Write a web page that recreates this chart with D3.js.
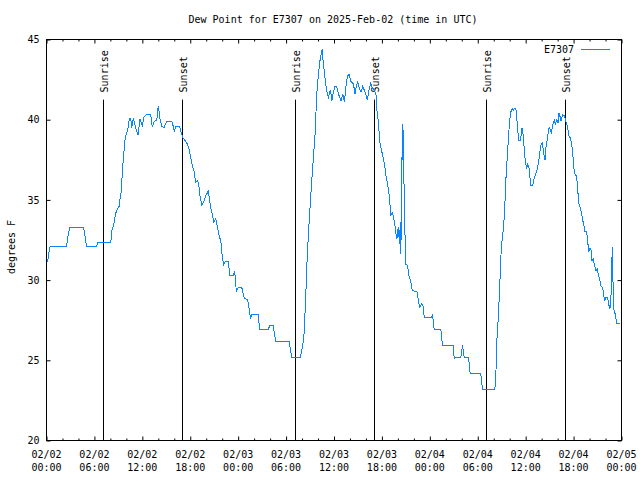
<!DOCTYPE html>
<html>
<head>
<meta charset="utf-8">
<script src="https://cdn.jsdelivr.net/npm/d3@7"></script>
<style>
  html, body { margin: 0; padding: 0; background: #fff; }
  svg { display: block; }
  text { font-family: "DejaVu Sans Mono", monospace; font-size: 10px; fill: #000; }
</style>
</head>
<body>
<svg id="chart" width="640" height="480"></svg>
<script>
// ---- data (hours since 2025-02-02 00:00 UTC, dew point in degrees F) ----
const hours = [
  0.15, 0.25, 0.46, 2.5, 2.71, 2.93, 4.63, 4.84, 5.0, 6.3, 6.38, 8.05,
  8.18, 8.38, 8.59, 8.75, 9.09, 9.21, 9.38, 9.5, 9.68, 9.84, 10.0, 10.21,
  10.38, 10.55, 10.68, 10.88, 11.03, 11.21, 11.46, 11.71, 12.0, 12.21, 12.46, 13.05,
  13.25, 13.5, 13.8, 14.0, 14.21, 14.43, 14.71, 15.05, 15.75, 16.0, 16.21, 16.63,
  16.8, 17.05, 17.34, 17.63, 17.84, 18.05, 18.25, 18.46, 18.68, 18.88, 19.05, 19.21,
  19.46, 19.71, 19.96, 20.25, 20.55, 20.8, 20.96, 21.21, 21.43, 21.63, 21.84, 22.0,
  22.18, 22.38, 22.75, 22.96, 23.38, 23.5, 23.68, 23.75, 24.05, 24.46, 24.75, 25.18,
  25.38, 25.55, 25.68, 26.5, 26.71, 27.75, 27.96, 28.38, 28.71, 30.38, 30.71, 31.75,
  32.05, 32.25, 32.46, 32.59, 32.8, 33.0, 33.21, 33.43, 33.63, 33.84, 34.05, 34.25,
  34.46, 34.55, 34.63, 34.88, 35.05, 35.3, 35.55, 35.75, 35.93, 36.13, 36.34, 36.63,
  36.88, 37.09, 37.3, 37.5, 37.68, 37.88, 38.09, 38.43, 38.63, 38.8, 38.96, 39.21,
  39.38, 39.59, 39.84, 40.18, 40.38, 40.59, 40.8, 41.0, 41.25, 41.38, 41.55, 41.75,
  41.96, 42.18, 42.38, 42.5, 42.71, 42.88, 43.0, 43.13, 43.3, 43.46, 43.63, 43.75,
  43.88, 44.05, 44.21, 44.3, 44.38, 44.46, 44.55, 44.63, 44.71, 44.88, 44.96, 45.21,
  45.38, 45.59, 45.8, 46.43, 46.55, 46.75, 46.96, 47.18, 47.3, 48.13, 48.34, 48.55,
  49.38, 49.59, 50.93, 51.05, 51.15, 51.88, 52.09, 52.3, 52.84, 53.05, 54.38, 54.59,
  56.13, 56.25, 56.38, 56.59, 56.71, 56.84, 56.96, 57.13, 57.3, 57.43, 57.55, 57.71,
  57.84, 57.96, 58.13, 58.3, 58.46, 58.63, 58.8, 58.96, 59.13, 59.34, 59.55, 59.71,
  59.84, 60.0, 60.13, 60.25, 60.43, 60.55, 60.63, 60.88, 61.05, 61.25, 61.46, 61.68,
  61.88, 62.09, 62.3, 62.43, 62.55, 62.71, 62.93, 63.09, 63.21, 63.38, 63.59, 63.75,
  63.88, 64.05, 64.18, 64.3, 64.43, 64.63, 64.84, 65.0, 65.21, 65.43, 65.63, 65.84,
  65.96, 66.09, 66.25, 66.38, 66.5, 66.68, 66.88, 67.0, 67.13, 67.3, 67.43, 67.63,
  67.75, 67.88, 68.05, 68.18, 68.3, 68.46, 68.59, 68.8, 68.96, 69.13, 69.3, 69.43,
  69.63, 69.8, 69.93, 70.05, 70.25, 70.38, 70.55, 70.68, 70.75, 70.88, 70.96, 71.09,
  71.25, 71.38, 71.84
];
const dewF = [
  31.1, 31.6, 32.1, 32.1, 32.8, 33.3, 33.3, 32.7, 32.1, 32.1, 32.35, 32.35,
  33.1, 33.35, 34.0, 34.3, 34.6, 35.07, 35.6, 36.8, 37.9, 38.8, 39.1, 39.5,
  40.1, 40.1, 39.5, 40.1, 39.8, 39.4, 39.05, 40.05, 39.64, 40.15, 40.3, 40.3,
  39.53, 39.9, 39.95, 40.88, 40.06, 39.58, 39.5, 39.9, 39.85, 39.27, 39.6, 39.6,
  39.33, 38.9, 38.7, 38.5, 38.2, 37.67, 37.16, 36.83, 36.1, 36.2, 36.0, 35.27,
  34.65, 34.9, 35.27, 35.55, 34.55, 34.03, 33.6, 33.82, 33.2, 32.78, 32.37, 31.53,
  30.95, 31.18, 31.18, 30.3, 30.3, 30.5, 30.2, 29.3, 29.56, 29.52, 28.9, 28.77,
  28.2, 27.59, 27.85, 27.85, 26.9, 26.9, 27.17, 27.17, 26.17, 26.17, 25.16, 25.16,
  25.8, 26.65, 28.94, 30.8, 32.9, 34.55, 36.2, 37.66, 39.1, 41.6, 42.86, 43.7,
  44.3, 44.36, 43.7, 42.6, 41.9, 41.4, 41.86, 41.2, 41.73, 42.07, 42.05, 41.5,
  41.17, 41.6, 41.1, 42.07, 42.7, 42.86, 42.4, 42.24, 41.63, 42.1, 42.36, 41.9,
  41.73, 42.07, 41.8, 41.24, 41.86, 42.24, 42.0, 41.86, 41.63, 40.57, 39.86, 38.6,
  38.08, 37.56, 37.04, 36.52, 36.0, 35.38, 34.76, 34.03, 34.18, 33.93, 33.4, 32.89,
  32.58, 33.3, 32.26, 33.6, 31.64, 37.66, 37.46, 39.74, 37.5, 33.1, 31.0, 30.9,
  30.29, 29.98, 29.35, 29.25, 28.73, 28.31, 28.52, 28.35, 27.65, 27.65, 27.84, 26.92,
  26.92, 25.92, 25.92, 25.1, 25.2, 25.2, 25.92, 25.2, 25.2, 24.16, 24.16, 23.18,
  23.18, 23.74, 26.13, 27.8, 29.15, 30.7, 32.16, 32.78, 33.82, 35.07, 36.52, 37.77,
  38.81, 39.74, 40.47, 40.68, 40.6, 40.72, 40.6, 39.63, 38.7, 38.7, 39.5, 39.0,
  37.97, 37.25, 36.94, 37.2, 37.0, 36.32, 35.9, 35.9, 36.32, 36.63, 36.94, 37.56,
  38.39, 38.55, 37.77, 37.5, 38.29, 38.81, 39.53, 39.4, 39.12, 39.64, 39.95, 39.7,
  40.06, 39.8, 40.44, 40.2, 39.9, 40.3, 40.25, 39.95, 39.64, 39.0, 38.81, 38.2,
  37.46, 36.73, 36.52, 36.52, 35.69, 34.76, 34.45, 34.13, 33.78, 33.36, 33.03, 33.03,
  32.58, 31.75, 32.0, 31.9, 31.22, 31.3, 31.0, 30.6, 30.7, 30.29, 29.98, 29.62,
  29.56, 28.94, 28.73, 28.94, 28.94, 28.52, 28.21, 28.83, 30.91, 32.06, 29.04, 27.9,
  27.9, 27.28, 27.28
];
const sunriseHours = [7.1, 31.1, 55.05];
const sunsetHours = [17.0, 41.0, 64.9];
const yTicks = [20, 25, 30, 35, 40, 45];
const xTickDays = ["02/02", "02/02", "02/02", "02/02", "02/03", "02/03", "02/03", "02/03", "02/04", "02/04", "02/04", "02/04", "02/05"];
const xTickTimes = ["00:00", "06:00", "12:00", "18:00", "00:00", "06:00", "12:00", "18:00", "00:00", "06:00", "12:00", "18:00", "00:00"];
const seriesName = "E7307";
const titleText = "Dew Point for E7307 on 2025-Feb-02 (time in UTC)";
const yLabelText = "degrees F";

// ---- layout ----
const L = 46.5, R = 621.5, T = 39.5, B = 440.5;
const t0 = Date.UTC(2025, 1, 2, 0, 0);
const toDate = h => new Date(t0 + h * 3600e3);

const svg = d3.select("#chart");
const x = d3.scaleUtc().domain([toDate(0), toDate(72)]).range([L, R]);
const y = d3.scaleLinear().domain([20, 45]).range([B, T]);

const majorDates = xTickDays.map((d, i) => toDate(i * 6));
const minorDates = d3.range(0, 73, 2).filter(h => h % 6 !== 0).map(toDate);

// minor x ticks bottom/top
svg.append("g").attr("transform", `translate(0,${B})`)
  .call(d3.axisBottom(x).tickValues(minorDates).tickSize(-2).tickFormat(""))
  .call(g => g.select(".domain").remove());
svg.append("g").attr("transform", `translate(0,${T})`)
  .call(d3.axisTop(x).tickValues(minorDates).tickSize(-2).tickFormat(""))
  .call(g => g.select(".domain").remove());
// major x ticks bottom/top
svg.append("g").attr("transform", `translate(0,${B})`)
  .call(d3.axisBottom(x).tickValues(majorDates).tickSize(-4).tickFormat(""))
  .call(g => g.select(".domain").remove());
svg.append("g").attr("transform", `translate(0,${T})`)
  .call(d3.axisTop(x).tickValues(majorDates).tickSize(-4).tickFormat(""))
  .call(g => g.select(".domain").remove());
// y ticks left/right
svg.append("g").attr("transform", `translate(${L},0)`)
  .call(d3.axisLeft(y).tickValues(yTicks).tickSize(-4).tickFormat(""))
  .call(g => g.select(".domain").remove());
svg.append("g").attr("transform", `translate(${R},0)`)
  .call(d3.axisRight(y).tickValues(yTicks).tickSize(-4).tickFormat(""))
  .call(g => g.select(".domain").remove());
svg.selectAll(".tick line").attr("stroke", "#000");

// x labels
const xl = svg.append("g");
majorDates.forEach((d, i) => {
  const t = xl.append("text").attr("text-anchor", "middle").attr("x", x(d));
  t.append("tspan").attr("x", x(d)).attr("y", 458).text(xTickDays[i]);
  t.append("tspan").attr("x", x(d)).attr("y", 471).text(xTickTimes[i]);
});
// y labels
svg.append("g").selectAll("text").data(yTicks).join("text")
  .attr("x", 39.5).attr("y", d => y(d)).attr("dy", "0.36em")
  .attr("text-anchor", "end").text(d => d);

// sunrise / sunset lines
const sunEvents = sunriseHours.map(h => ({ h, label: "Sunrise" }))
  .concat(sunsetHours.map(h => ({ h, label: "Sunset" })));
const sg = svg.append("g");
sunEvents.forEach(ev => {
  const xx = Math.round(x(toDate(ev.h))) + 0.5;
  sg.append("line").attr("x1", xx).attr("x2", xx)
    .attr("y1", y(20 + 0.85 * 25)).attr("y2", B)
    .attr("stroke", "#000").attr("stroke-width", 1);
  sg.append("text")
    .attr("transform", `translate(${xx + 1},${y(20 + 0.868 * 25)}) rotate(-90)`)
    .attr("dy", "0.36em").text(ev.label);
});

// data line
const pts = hours.map((h, i) => ({ d: toDate(h), v: dewF[i] }));
svg.append("path").datum(pts)
  .attr("fill", "none").attr("stroke", "#0a84ff").attr("stroke-width", 1)
  .attr("shape-rendering", "crispEdges")
  .attr("d", d3.line().x(p => x(p.d)).y(p => y(p.v)));

// frame
svg.append("rect").attr("x", L).attr("y", T).attr("width", R - L).attr("height", B - T)
  .attr("fill", "none").attr("stroke", "#000").attr("stroke-width", 1);

// legend
svg.append("text").attr("x", 574).attr("y", 49).attr("dy", "0.36em")
  .attr("text-anchor", "end").text(seriesName);
svg.append("line").attr("x1", 581).attr("x2", 610).attr("y1", 49.5).attr("y2", 49.5)
  .attr("stroke", "#0a84ff").attr("stroke-width", 1);

// title
svg.append("text").attr("x", 333).attr("y", 23).attr("text-anchor", "middle").text(titleText);

// y axis label
svg.append("text").attr("transform", `translate(11,247) rotate(-90)`)
  .attr("text-anchor", "middle").attr("dy", "0.36em").text(yLabelText);
</script>
</body>
</html>
